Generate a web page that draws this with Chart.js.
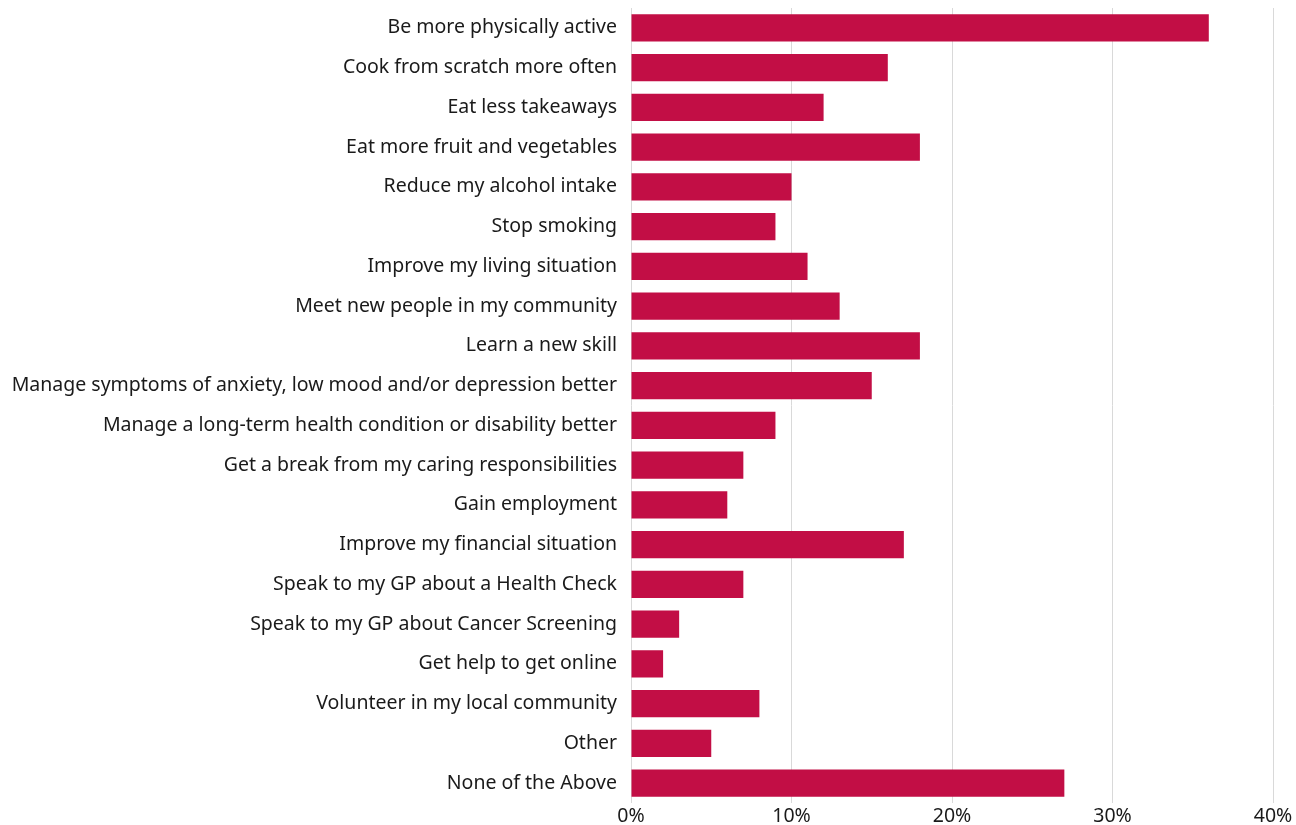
<!DOCTYPE html>
<html>
<head>
<meta charset="utf-8">
<script src="https://cdn.jsdelivr.net/npm/chart.js@4/dist/chart.umd.min.js"></script>
<style>
  html, body { margin: 0; padding: 0; background: #ffffff; }
  #wrap { width: 1296px; height: 825px; position: relative; }
</style>
</head>
<body>
<div id="wrap"><canvas id="chart"></canvas></div>
<script>
// Survey answers: what people would like to do (share of respondents, %)
const categories = [
  "Be more physically active",
  "Cook from scratch more often",
  "Eat less takeaways",
  "Eat more fruit and vegetables",
  "Reduce my alcohol intake",
  "Stop smoking",
  "Improve my living situation",
  "Meet new people in my community",
  "Learn a new skill",
  "Manage symptoms of anxiety, low mood and/or depression better",
  "Manage a long-term health condition or disability better",
  "Get a break from my caring responsibilities",
  "Gain employment",
  "Improve my financial situation",
  "Speak to my GP about a Health Check",
  "Speak to my GP about Cancer Screening",
  "Get help to get online",
  "Volunteer in my local community",
  "Other",
  "None of the Above"
];
const percentages = [36, 16, 12, 18, 10, 9, 11, 13, 18, 15, 9, 7, 6, 17, 7, 3, 2, 8, 5, 27];
const xTicks = [0, 10, 20, 30, 40];

const FONT = "'Noto Sans', 'Open Sans', sans-serif";
const FONT_SIZE = 19.5;

new Chart(document.getElementById('chart'), {
  type: 'bar',
  data: {
    labels: categories,
    datasets: [{
      data: percentages,
      backgroundColor: '#C20E45',
      borderWidth: 0,
      categoryPercentage: 0.68,
      barPercentage: 1.0
    }]
  },
  options: {
    indexAxis: 'y',
    responsive: true,
    maintainAspectRatio: false,
    animation: false,
    layout: { padding: { top: 8, right: 23, bottom: 0, left: 0 } },
    plugins: { legend: { display: false }, tooltip: { enabled: false } },
    scales: {
      x: {
        min: 0,
        max: 40,
        afterBuildTicks: (axis) => { axis.ticks = xTicks.map(v => ({ value: v })); },
        afterFit: (axis) => { axis.paddingLeft = 0; axis.paddingRight = 0; axis.height = 22; },
        grid: { color: '#d9d9d9', lineWidth: 1, drawTicks: false },
        border: { display: false },
        ticks: {
          padding: 2,
          color: '#1a1a1a',
          font: { family: FONT, size: FONT_SIZE },
          callback: (v) => v + '%'
        }
      },
      y: {
        grid: { display: false, drawTicks: false },
        border: { display: false },
        afterFit: (axis) => { axis.width = 631; axis.paddingTop = 0; axis.paddingBottom = 0; },
        ticks: {
          padding: 14,
          color: '#1a1a1a',
          autoSkip: false,
          font: { family: FONT, size: FONT_SIZE }
        }
      }
    }
  }
});
</script>
</body>
</html>
